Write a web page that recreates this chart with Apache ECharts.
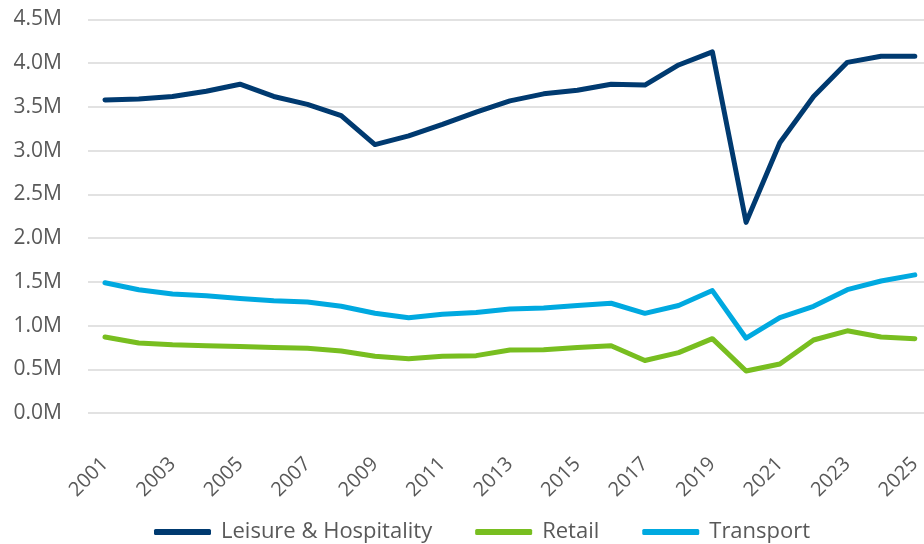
<!DOCTYPE html>
<html><head><meta charset="utf-8">
<script src="https://cdn.jsdelivr.net/npm/echarts@6/dist/echarts.min.js"></script>
<style>html,body{margin:0;padding:0;background:#fff}#c{width:924px;height:544px}</style>
</head><body><div id="c"></div>
<script>
const years = ['2001','2002','2003','2004','2005','2006','2007','2008','2009','2010','2011','2012','2013','2014','2015','2016','2017','2018','2019','2020','2021','2022','2023','2024','2025'];
const leisure = [3.58,3.59,3.62,3.68,3.76,3.62,3.53,3.40,3.07,3.17,3.30,3.44,3.57,3.65,3.69,3.76,3.75,3.98,4.13,2.18,3.09,3.62,4.01,4.08,4.08];
const retail = [0.87,0.80,0.78,0.77,0.76,0.75,0.74,0.71,0.65,0.62,0.65,0.656,0.72,0.724,0.75,0.77,0.60,0.69,0.85,0.48,0.56,0.835,0.94,0.87,0.85];
const transport = [1.49,1.41,1.36,1.34,1.31,1.285,1.27,1.22,1.14,1.09,1.13,1.15,1.19,1.20,1.23,1.255,1.14,1.23,1.40,0.855,1.09,1.22,1.41,1.51,1.58];
const seriesNames = ['Leisure & Hospitality','Retail','Transport'];
const colors = ['#003a70','#78be20','#00a9e0'];
const font = '"Open Sans", "Noto Sans", sans-serif';
const chart = echarts.init(document.getElementById('c'));
const mk = (name, data, color) => ({
  name, type: 'line', data, symbol: 'none', smooth: false,
  xAxisIndex: 1, yAxisIndex: 1,
  lineStyle: { width: 5, color, cap: 'round', join: 'round' },
  itemStyle: { color }
});
const yBase = { type: 'value', min: 0, max: 4.5, interval: 0.5,
  axisLine: { show: false }, axisTick: { show: false } };
chart.setOption({
  animation: false,
  color: colors,
  grid: [
    { left: 88, right: 0, top: 19.5, height: 393.5 },
    { left: 105, right: 7, top: 19.5, height: 393.5 }
  ],
  legend: {
    top: 516, left: 149,
    icon: 'roundRect', itemWidth: 57, itemHeight: 6, itemGap: 43,
    textStyle: { fontFamily: font, fontSize: 22, color: '#595959', padding: [0, 0, 0, 5] },
    data: seriesNames
  },
  xAxis: [
    { type: 'value', gridIndex: 0, show: false, min: 0, max: 1 },
    { type: 'category', gridIndex: 1, data: years, boundaryGap: false,
      axisLine: { show: false }, axisTick: { show: false }, splitLine: { show: false },
      axisLabel: { interval: 1, rotate: 45, fontFamily: font, fontSize: 20, color: '#595959', margin: 48 } }
  ],
  yAxis: [
    Object.assign({}, yBase, { gridIndex: 0,
      splitLine: { lineStyle: { color: '#d9d9d9', width: 1.5 } },
      axisLabel: { fontFamily: font, fontSize: 21, color: '#595959', margin: 26,
        formatter: v => v.toFixed(1) + 'M' } }),
    Object.assign({}, yBase, { gridIndex: 1, splitLine: { show: false }, axisLabel: { show: false } })
  ],
  series: [mk(seriesNames[0], leisure, colors[0]), mk(seriesNames[1], retail, colors[1]), mk(seriesNames[2], transport, colors[2])]
});
</script></body></html>
